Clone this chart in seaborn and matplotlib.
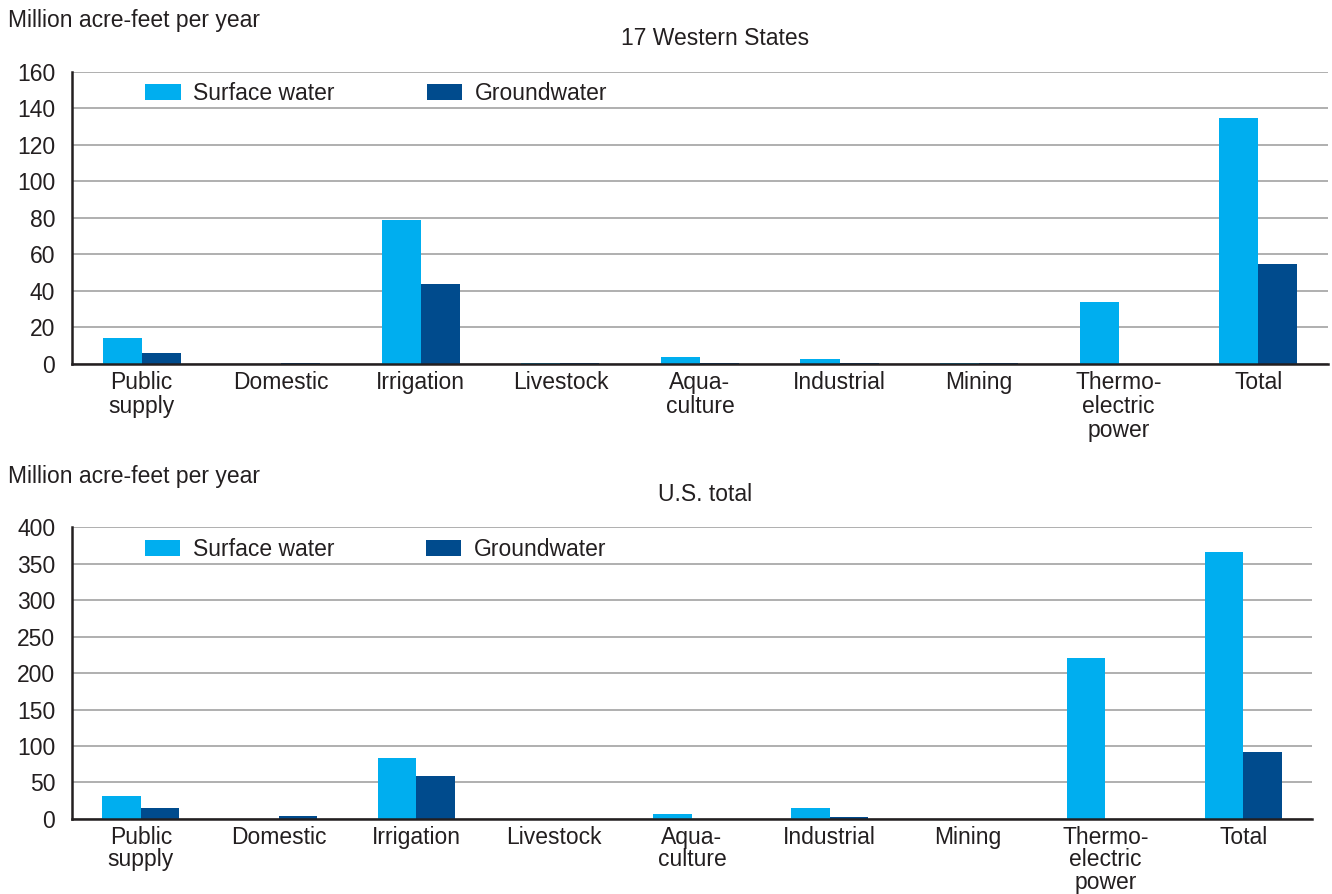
import numpy as np
import matplotlib
matplotlib.use("Agg")
import matplotlib.pyplot as plt
import pandas as pd
import seaborn as sns

categories = ["Public\nsupply", "Domestic", "Irrigation", "Livestock", "Aqua-\nculture",
              "Industrial", "Mining", "Thermo-\nelectric\npower", "Total"]
series = ["Surface water", "Groundwater"]

# 17 Western States, million acre-feet per year
west_surface = [14.2, 0.0, 78.5, 0.4, 3.8, 2.7, 0.4, 34.0, 134.8]
west_ground = [6.0, 0.5, 43.8, 0.4, 0.4, 0.4, 0.4, 0.0, 54.8]

# U.S. total, million acre-feet per year
us_surface = [31.5, 0.0, 84.0, 0.3, 7.0, 15.0, 0.3, 221.0, 367.0]
us_ground = [15.0, 4.0, 59.0, 0.3, 0.5, 2.5, 0.3, 0.0, 92.0]

colors = ["#00AEEF", "#004B8D"]
txt = "#231F20"
fs = 16.5

sns.set_theme(style="white")
plt.rcParams['font.family'] = ['Liberation Sans', 'DejaVu Sans']
plt.rcParams['font.size'] = fs


def make_df(surf, grd):
    df = pd.DataFrame({"category": categories * 2,
                       "series": [series[0]] * len(categories) + [series[1]] * len(categories),
                       "value": surf + grd})
    return df


def draw(ax, df, ymax, step, lsp):
    sns.barplot(data=df, x="category", y="value", hue="series", palette=colors,
                width=0.56, gap=0, ax=ax, saturation=1, errorbar=None, linewidth=0)
    ax.set_xlim(-0.5, len(categories) - 0.5)
    ax.set_ylim(0, ymax)
    ax.set_yticks(np.arange(0, ymax + 1, step))
    ax.yaxis.grid(True, color="#9a9a9a", lw=1.1)
    ax.set_axisbelow(True)
    ax.set_xlabel("")
    ax.set_ylabel("")
    for s in ["top", "right"]:
        ax.spines[s].set_visible(False)
    for s in ["left", "bottom"]:
        ax.spines[s].set_color(txt)
        ax.spines[s].set_linewidth(1.8)
    ax.set_xticks(np.arange(-0.5, len(categories)), minor=True)
    ax.tick_params(axis="x", which="major", length=0, pad=5, labelsize=fs, colors=txt)
    ax.tick_params(axis="x", which="minor", length=6, width=1.8, color=txt, direction="out")
    ax.tick_params(axis="y", length=8, width=1.8, color=txt, labelsize=fs, labelcolor=txt, pad=4)
    ax.tick_params(axis="x", labelcolor=txt)
    for lab in ax.get_xticklabels():
        lab.set_linespacing(lsp)
        lab.set_verticalalignment("top")
    ax.legend(loc="upper left", bbox_to_anchor=(0.042, 1.036), ncol=2, frameon=False,
              handlelength=1.55, handleheight=0.7, columnspacing=4.0, handletextpad=0.55,
              fontsize=fs, labelcolor=txt)


fig = plt.figure(figsize=(13.32, 8.94), dpi=100)
ax1 = fig.add_axes([0.054, 0.593, 0.943, 0.327])
ax2 = fig.add_axes([0.054, 0.084, 0.931, 0.326])

draw(ax1, make_df(west_surface, west_ground), 160, 20, 1.07)
draw(ax2, make_df(us_surface, us_ground), 400, 50, 0.98)

fig.text(0.006, 0.977, "Million acre-feet per year", ha="left", va="center", fontsize=fs, color=txt)
fig.text(0.537, 0.957, "17 Western States", ha="center", va="center", fontsize=fs, color=txt)
fig.text(0.006, 0.467, "Million acre-feet per year", ha="left", va="center", fontsize=fs, color=txt)
fig.text(0.529, 0.447, "U.S. total", ha="center", va="center", fontsize=fs, color=txt)

fig.savefig("out.png", dpi=100)
